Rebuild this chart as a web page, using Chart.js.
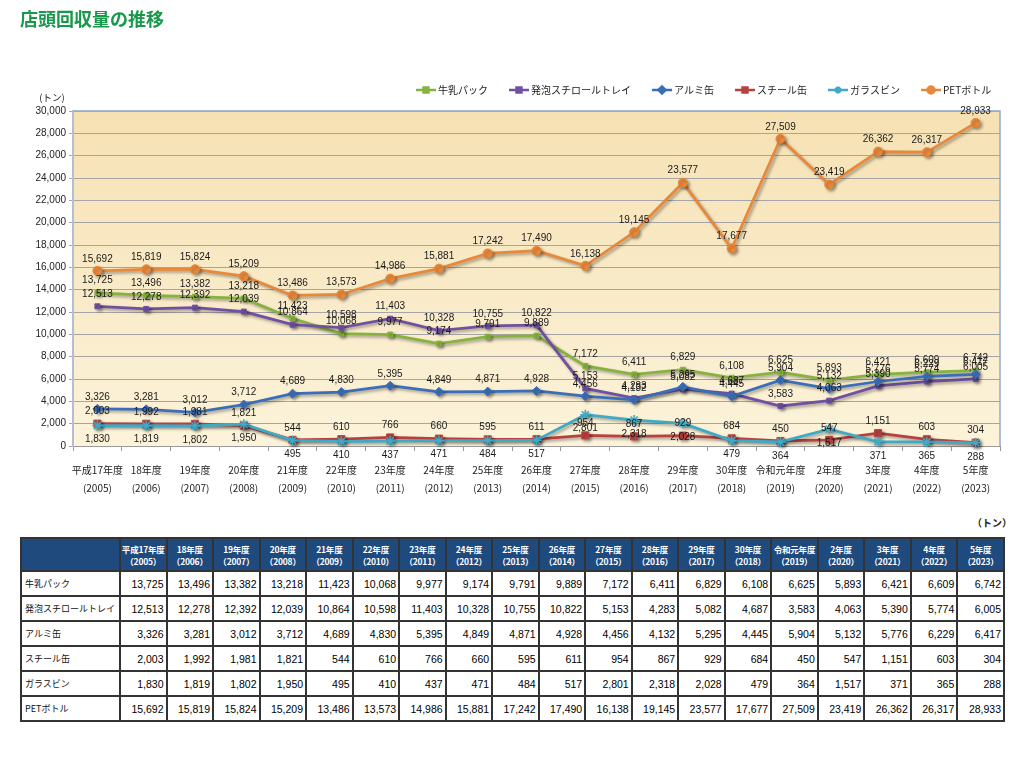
<!DOCTYPE html>
<html lang="ja">
<head>
<meta charset="utf-8">
<title>店頭回収量の推移</title>
<script src="https://cdn.jsdelivr.net/npm/chart.js@4.4.3/dist/chart.umd.min.js"></script>
<style>
  html, body { margin: 0; padding: 0; background: #fff; }
  body { width: 1013px; height: 761px; position: relative; overflow: hidden;
         font-family: 'Noto Sans CJK JP', 'Noto Sans', sans-serif; }
  h1 { position: absolute; left: 20px; top: 5px; margin: 0; font-size: 18px; line-height: 26px;
       font-weight: bold; color: #17984a; z-index: 2; }
  #chartBox { position: absolute; left: 0; top: 0; width: 1013px; height: 506px; }
  #unit { position: absolute; left: 972px; top: 515px; font-size: 10px; font-weight: bold; color: #222; }
  table { position: absolute; left: 20px; top: 537px; width: 985px; border-collapse: collapse;
          table-layout: fixed; }
  th, td { border: 2px solid #333; padding: 0; }
  th { background: #1f4a7e; color: #fff; font-size: 8.5px; line-height: 12px; font-weight: bold;
       height: 31px; text-align: center; white-space: nowrap; letter-spacing: -0.2px; }
  td { height: 23px; font-size: 10.5px; font-family: 'Liberation Sans', sans-serif; color: #000;
       text-align: right; padding-right: 2px; }
  td.name { text-align: left; padding-left: 3px; font-size: 9px;
            font-family: 'Noto Sans CJK JP', sans-serif; color: #111; }
</style>
</head>
<body>
<h1>店頭回収量の推移</h1>
<div id="chartBox"><canvas id="cv"></canvas></div>
<div id="unit">（トン）</div>
<table id="tbl"></table>

<script>
// ─────────────────────────────────────────────────────────────
// Data (tons)
// ─────────────────────────────────────────────────────────────
const fiscalYears = ['平成17年度', '18年度', '19年度', '20年度', '21年度', '22年度', '23年度', '24年度',
  '25年度', '26年度', '27年度', '28年度', '29年度', '30年度', '令和元年度', '2年度', '3年度', '4年度', '5年度'];
const westernYears = ['2005', '2006', '2007', '2008', '2009', '2010', '2011', '2012', '2013', '2014',
  '2015', '2016', '2017', '2018', '2019', '2020', '2021', '2022', '2023'];

const seriesNames = ['牛乳パック', '発泡スチロールトレイ', 'アルミ缶', 'スチール缶', 'ガラスビン', 'PETボトル'];

const milkCarton = [13725, 13496, 13382, 13218, 11423, 10068, 9977, 9174, 9791, 9889, 7172, 6411, 6829, 6108, 6625, 5893, 6421, 6609, 6742];
const foamTray   = [12513, 12278, 12392, 12039, 10864, 10598, 11403, 10328, 10755, 10822, 5153, 4283, 5082, 4687, 3583, 4063, 5390, 5774, 6005];
const aluminium  = [3326, 3281, 3012, 3712, 4689, 4830, 5395, 4849, 4871, 4928, 4456, 4132, 5295, 4445, 5904, 5132, 5776, 6229, 6417];
const steelCan   = [2003, 1992, 1981, 1821, 544, 610, 766, 660, 595, 611, 954, 867, 929, 684, 450, 547, 1151, 603, 304];
const glassBottle = [1830, 1819, 1802, 1950, 495, 410, 437, 471, 484, 517, 2801, 2318, 2028, 479, 364, 1517, 371, 365, 288];
const petBottle  = [15692, 15819, 15824, 15209, 13486, 13573, 14986, 15881, 17242, 17490, 16138, 19145, 23577, 17677, 27509, 23419, 26362, 26317, 28933];

const yTicksMax = 30000;
const yTicksStep = 2000;

// ─────────────────────────────────────────────────────────────
// Styles
// ─────────────────────────────────────────────────────────────
const STYLE = [
  { color: '#86b340', point: 'rect',    radius: 3.5, below: false },
  { color: '#7050a0', point: 'rect',    radius: 3.5, below: false },
  { color: '#3b6eb8', point: 'rectRot', radius: 4.5, below: false },
  { color: '#b8413f', point: 'rect',    radius: 5,   below: false },
  { color: '#3fa9c6', point: 'star',    radius: 5,   below: true  },
  { color: '#e8883b', point: 'circle',  radius: 4.5, below: false },
];
const allSeries = [milkCarton, foamTray, aluminium, steelCan, glassBottle, petBottle];
const fmt = v => Number(v).toLocaleString('en-US');
const numFont = '"Liberation Sans", Arial, sans-serif';
const jpFont = '"Noto Sans CJK JP", "Noto Sans", sans-serif';

// ─────────────────────────────────────────────────────────────
// Plugins
// ─────────────────────────────────────────────────────────────
const plotBackground = {
  id: 'plotBackground',
  beforeDraw(chart) {
    const { ctx, chartArea: a } = chart;
    const g = ctx.createLinearGradient(0, a.top, 0, a.bottom);
    g.addColorStop(0, '#f6e1b3');
    g.addColorStop(1, '#fcf3da');
    ctx.save();
    ctx.fillStyle = g;
    ctx.fillRect(a.left, a.top, a.right - a.left, a.bottom - a.top);
    ctx.restore();
  },
  beforeDatasetsDraw(chart) {
    const { ctx, chartArea: a } = chart;
    ctx.save();
    ctx.strokeStyle = '#8eaad8';
    ctx.lineWidth = 1.5;
    ctx.beginPath();
    ctx.moveTo(a.left, a.top);
    ctx.lineTo(a.right, a.top);
    ctx.lineTo(a.right, a.bottom);
    ctx.stroke();
    ctx.restore();
  },
};

const lineShadow = {
  id: 'lineShadow',
  beforeDatasetDraw(chart) {
    const ctx = chart.ctx;
    ctx.save();
    ctx.shadowColor = 'rgba(0,0,0,0.35)';
    ctx.shadowBlur = 3;
    ctx.shadowOffsetX = 2;
    ctx.shadowOffsetY = 2;
  },
  afterDatasetDraw(chart) {
    chart.ctx.restore();
  },
};

const valueLabels = {
  id: 'valueLabels',
  afterDatasetsDraw(chart) {
    const ctx = chart.ctx;
    ctx.save();
    ctx.font = '10px ' + numFont;
    ctx.fillStyle = '#1a1a1a';
    ctx.textAlign = 'center';
    ctx.textBaseline = 'middle';
    chart.data.datasets.forEach((ds, i) => {
      const dy = STYLE[i].below ? 14 : -12;
      chart.getDatasetMeta(i).data.forEach((pt, j) => {
        ctx.fillText(fmt(ds.data[j]), pt.x, pt.y + dy);
      });
    });
    ctx.restore();
  },
};

// Excel-style legend: line with marker, then the name
const topLegend = {
  id: 'topLegend',
  afterDraw(chart) {
    const ctx = chart.ctx;
    const y = 90;
    let x = 416;
    ctx.save();
    ctx.font = '10px ' + jpFont;
    ctx.textBaseline = 'middle';
    ctx.textAlign = 'left';
    seriesNames.forEach((name, i) => {
      const s = STYLE[i];
      ctx.strokeStyle = s.color;
      ctx.lineWidth = 2.5;
      ctx.beginPath();
      ctx.moveTo(x, y);
      ctx.lineTo(x + 20, y);
      ctx.stroke();
      ctx.fillStyle = s.color;
      ctx.strokeStyle = s.color;
      Chart.helpers.drawPoint(ctx, {
        pointStyle: s.point, radius: Math.min(s.radius, 3.5), rotation: 0, borderWidth: 1.5,
      }, x + 10, y);
      ctx.fillStyle = '#222';
      ctx.fillText(name, x + 22, y);
      x += 22 + ctx.measureText(name).width + 21;
    });
    // unit label of the value axis
    ctx.font = '9.5px ' + jpFont;
    ctx.textAlign = 'center';
    ctx.fillText('(トン)', 52, 97);
    ctx.restore();
  },
};

// ─────────────────────────────────────────────────────────────
// Chart
// ─────────────────────────────────────────────────────────────
const labels = fiscalYears.map((f, i) => [f, '(' + westernYears[i] + ')']);

const datasets = allSeries.map((data, i) => ({
  label: seriesNames[i],
  data,
  borderColor: STYLE[i].color,
  backgroundColor: STYLE[i].color,
  borderWidth: 2.75,
  pointStyle: STYLE[i].point,
  pointRadius: STYLE[i].radius,
  pointBorderWidth: STYLE[i].point === 'star' ? 1.5 : 1,
  pointBorderColor: STYLE[i].color,
  pointBackgroundColor: STYLE[i].color,
  tension: 0,
  fill: false,
  clip: false,
  order: allSeries.length - i,
}));

new Chart(document.getElementById('cv'), {
  type: 'line',
  data: { labels, datasets },
  plugins: [plotBackground, lineShadow, valueLabels, topLegend],
  options: {
    responsive: true,
    maintainAspectRatio: false,
    animation: false,
    layout: { padding: { top: 111, right: 13, left: 0, bottom: 0 } },
    plugins: { legend: { display: false }, tooltip: { enabled: false } },
    scales: {
      x: {
        offset: true,
        grid: { offset: true, drawOnChartArea: false, drawTicks: true, tickLength: 5, color: '#9a9a9a' },
        border: { color: '#9a9a9a', width: 1 },
        ticks: {
          autoSkip: false, maxRotation: 0, padding: 10, color: '#222',
          font: { size: 10, family: jpFont, lineHeight: '18px' },
        },
        afterFit: s => { s.height = 60; },
      },
      y: {
        min: 0,
        max: yTicksMax,
        grid: { color: '#a5a5a5', lineWidth: 1, tickLength: 4 },
        border: { color: '#b5bed0', width: 2 },
        ticks: {
          stepSize: yTicksStep, padding: 3, color: '#222',
          font: { size: 10, family: numFont },
          callback: v => fmt(v),
        },
        afterFit: s => { s.width = 73; },
      },
    },
  },
});

// ─────────────────────────────────────────────────────────────
// Data table
// ─────────────────────────────────────────────────────────────
const tbl = document.getElementById('tbl');
let html = '<colgroup><col style="width:99px">' + fiscalYears.map(() => '<col>').join('') + '</colgroup>';
html += '<tr><th></th>' + fiscalYears.map((f, i) => `<th>${f}<br>（${westernYears[i]}）</th>`).join('') + '</tr>';
allSeries.forEach((data, i) => {
  html += `<tr><td class="name">${seriesNames[i]}</td>` + data.map(v => `<td>${fmt(v)}</td>`).join('') + '</tr>';
});
tbl.innerHTML = html;
</script>
</body>
</html>
